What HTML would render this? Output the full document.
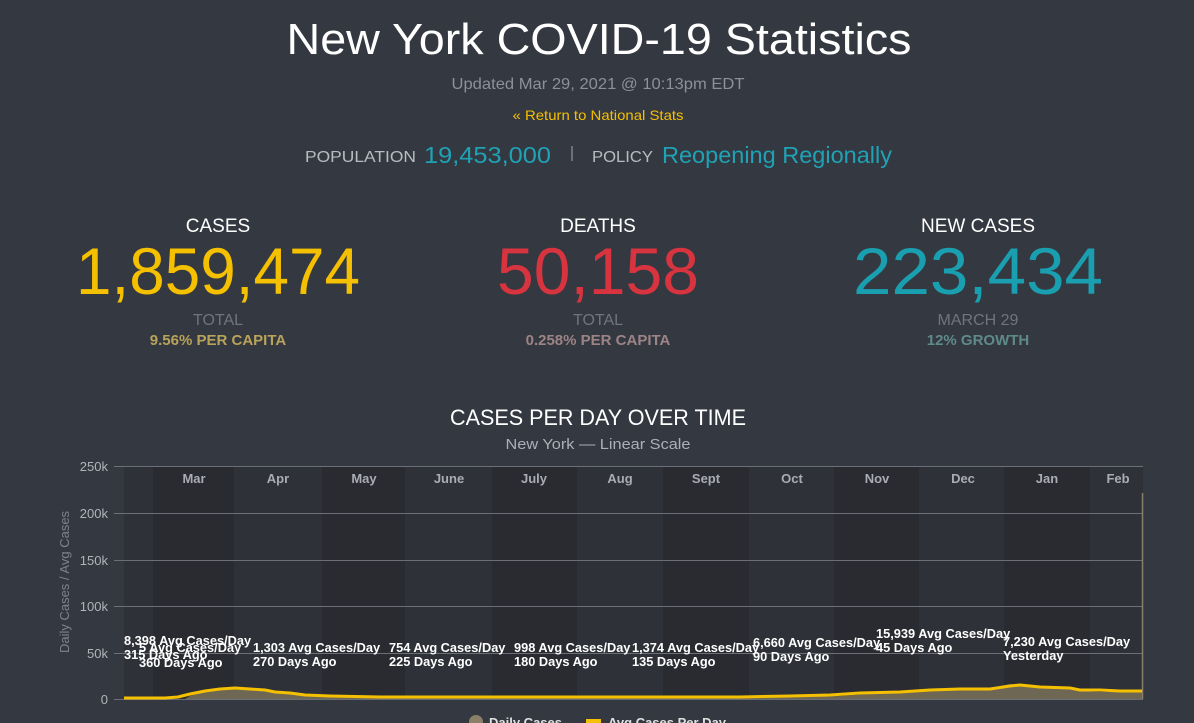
<!DOCTYPE html>
<html><head><meta charset="utf-8"><style>
html,body{margin:0;padding:0;background:#343840;overflow:hidden}
svg{display:block}
text{font-family:"Liberation Sans",sans-serif}
</style></head><body>
<svg width="1194" height="723" viewBox="0 0 1194 723" xmlns="http://www.w3.org/2000/svg">
<rect width="1194" height="723" fill="#343840"/>
<text x="599" y="54" text-anchor="middle" font-size="44" fill="#ffffff" textLength="625" lengthAdjust="spacingAndGlyphs">New York COVID-19 Statistics</text>
<text x="598" y="89" text-anchor="middle" font-size="16" fill="#8c9199" textLength="293" lengthAdjust="spacingAndGlyphs">Updated Mar 29, 2021 @ 10:13pm EDT</text>
<text x="598" y="120" text-anchor="middle" font-size="14" fill="#f5c000" textLength="171" lengthAdjust="spacingAndGlyphs">« Return to National Stats</text>
<text x="305" y="162" font-size="16" fill="#b8bcc2" textLength="111" lengthAdjust="spacingAndGlyphs">POPULATION</text>
<text x="424" y="163" font-size="23" fill="#1fa2b5" textLength="127" lengthAdjust="spacingAndGlyphs">19,453,000</text>
<rect x="571" y="146" width="2" height="15" fill="#6c7179"/>
<text x="592" y="162" font-size="16" fill="#b8bcc2" textLength="61" lengthAdjust="spacingAndGlyphs">POLICY</text>
<text x="662" y="163" font-size="23" fill="#1fa2b5" textLength="230" lengthAdjust="spacingAndGlyphs">Reopening Regionally</text>

<g text-anchor="middle">
<text x="218" y="232" font-size="19" fill="#fff">CASES</text>
<text x="218" y="294" font-size="66" fill="#f5c000" textLength="284" lengthAdjust="spacingAndGlyphs">1,859,474</text>
<text x="218" y="325" font-size="16" fill="#6f757d">TOTAL</text>
<text x="218" y="345" font-size="15" font-weight="bold" fill="#b9a35a">9.56% PER CAPITA</text>
<text x="598" y="232" font-size="19" fill="#fff">DEATHS</text>
<text x="598" y="294" font-size="66" fill="#d8343f" textLength="202" lengthAdjust="spacingAndGlyphs">50,158</text>
<text x="598" y="325" font-size="16" fill="#6f757d">TOTAL</text>
<text x="598" y="345" font-size="15" font-weight="bold" fill="#9c8486">0.258% PER CAPITA</text>
<text x="978" y="232" font-size="19" fill="#fff">NEW CASES</text>
<text x="978" y="294" font-size="66" fill="#1a9fb0" textLength="250" lengthAdjust="spacingAndGlyphs">223,434</text>
<text x="978" y="325" font-size="16" fill="#6f757d">MARCH 29</text>
<text x="978" y="345" font-size="15" font-weight="bold" fill="#5f8a8a">12% GROWTH</text>
<text x="598" y="425" font-size="22" fill="#fff" textLength="296" lengthAdjust="spacingAndGlyphs">CASES PER DAY OVER TIME</text>
<text x="598" y="449" font-size="15" fill="#aab0b7" textLength="185" lengthAdjust="spacingAndGlyphs">New York — Linear Scale</text>
</g>

<g>
<rect x="124" y="466" width="29" height="233" fill="#2e3137"/>
<rect x="153" y="466" width="81" height="233" fill="#292b30"/>
<rect x="234" y="466" width="88" height="233" fill="#2e3137"/>
<rect x="322" y="466" width="83" height="233" fill="#292b30"/>
<rect x="405" y="466" width="87" height="233" fill="#2e3137"/>
<rect x="492" y="466" width="85" height="233" fill="#292b30"/>
<rect x="577" y="466" width="86" height="233" fill="#2e3137"/>
<rect x="663" y="466" width="86" height="233" fill="#292b30"/>
<rect x="749" y="466" width="85" height="233" fill="#2e3137"/>
<rect x="834" y="466" width="85" height="233" fill="#292b30"/>
<rect x="919" y="466" width="85" height="233" fill="#2e3137"/>
<rect x="1004" y="466" width="86" height="233" fill="#292b30"/>
<rect x="1090" y="466" width="53" height="233" fill="#2e3137"/>
</g>
<g stroke="#6c6f75" stroke-width="1">
<line x1="114" y1="466.5" x2="1143" y2="466.5"/>
<line x1="114" y1="513.5" x2="1143" y2="513.5"/>
<line x1="114" y1="560.5" x2="1143" y2="560.5"/>
<line x1="114" y1="606.5" x2="1143" y2="606.5"/>
<line x1="114" y1="653.5" x2="1143" y2="653.5"/>
<line x1="114" y1="699.5" x2="1143" y2="699.5"/>
</g>
<line x1="1142.5" y1="493" x2="1142.5" y2="699" stroke="#8a8068" stroke-width="1.5"/>
<g font-size="13" fill="#b0b4ba" text-anchor="end">
<text x="108" y="471">250k</text>
<text x="108" y="518">200k</text>
<text x="108" y="565">150k</text>
<text x="108" y="611">100k</text>
<text x="108" y="658">50k</text>
<text x="108" y="704">0</text>
</g>
<text transform="translate(69,582) rotate(-90)" text-anchor="middle" font-size="13" fill="#7d838c">Daily Cases / Avg Cases</text>
<g font-size="13" font-weight="bold" fill="#a9adb3" text-anchor="middle">
<text x="194" y="483">Mar</text><text x="278" y="483">Apr</text><text x="364" y="483">May</text>
<text x="449" y="483">June</text><text x="534" y="483">July</text><text x="620" y="483">Aug</text>
<text x="706" y="483">Sept</text><text x="792" y="483">Oct</text><text x="877" y="483">Nov</text>
<text x="963" y="483">Dec</text><text x="1047" y="483">Jan</text><text x="1118" y="483">Feb</text>
</g>
<polygon fill="#6e6754" points="185,699 190,696 200,693 215,691 230,689 250,690 270,692 290,694 320,696 360,697 400,698 740,698 800,697 840,696 880,693 920,690 960,689 990,688 1010,684 1030,687 1060,688 1080,691 1100,692 1142,692 1142,699"/>
<polyline fill="none" stroke="#f5c000" stroke-width="3" stroke-linejoin="round" points="124,698 165,698 178,697 190,694 205,691 220,689 235,688 250,689 265,690 275,692 290,693 305,695 330,696 380,697 500,697 740,697 790,696 830,695 860,693 900,692 930,690 960,689 990,689 1010,686 1020,685 1040,687 1070,688 1080,690 1100,690 1120,691 1142,691"/>
<g font-size="12.8" font-weight="bold" fill="#ffffff">
<text x="124" y="645">8,398 Avg Cases/Day</text>
<text x="139" y="652">5 Avg Cases/Day</text>
<text x="124" y="659">315 Days Ago</text>
<text x="139" y="667">360 Days Ago</text>
<text x="253" y="652">1,303 Avg Cases/Day</text>
<text x="253" y="666">270 Days Ago</text>
<text x="389" y="652">754 Avg Cases/Day</text>
<text x="389" y="666">225 Days Ago</text>
<text x="514" y="652">998 Avg Cases/Day</text>
<text x="514" y="666">180 Days Ago</text>
<text x="632" y="652">1,374 Avg Cases/Day</text>
<text x="632" y="666">135 Days Ago</text>
<text x="753" y="647">6,660 Avg Cases/Day</text>
<text x="753" y="661">90 Days Ago</text>
<text x="876" y="638">15,939 Avg Cases/Day</text>
<text x="876" y="652">45 Days Ago</text>
<text x="1003" y="646">7,230 Avg Cases/Day</text>
<text x="1003" y="660">Yesterday</text>
</g>
<circle cx="476" cy="722" r="7" fill="#8a8068"/>
<text x="489" y="727" font-size="13" font-weight="bold" fill="#e0e0e0">Daily Cases</text>
<rect x="586" y="719" width="15" height="4" fill="#f5c000"/>
<text x="608" y="727" font-size="13" font-weight="bold" fill="#e0e0e0">Avg Cases Per Day</text>
</svg>
</body></html>
